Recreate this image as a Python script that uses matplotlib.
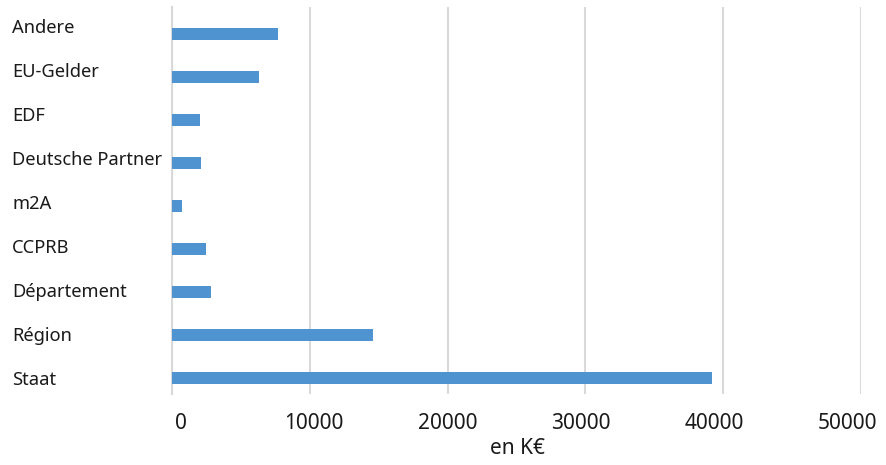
import numpy as np
import matplotlib
matplotlib.use("Agg")
import matplotlib.pyplot as plt

# bottom to top, as the axis reads upward
categories = ["Staat", "Région", "Département", "CCPRB", "m2A",
              "Deutsche Partner", "EDF", "EU-Gelder", "Andere"]
values = [39200, 14600, 2800, 2500, 700, 2100, 2000, 6300, 7700]
xticks = [0, 10000, 20000, 30000, 40000, 50000]

BAR = "#4f94d0"
GRID = "#d9d9d9"
TEXT = "#1a1a1a"
W, H = 886, 465

plt.rcParams["font.family"] = ["Noto Sans", "DejaVu Sans"]

fig = plt.figure(figsize=(W / 100, H / 100), dpi=100)

# plot area (bars + gridlines)
ax = fig.add_axes([172 / W, 1 - 394 / H, (861 - 172) / W, (394 - 7) / H])
y = np.arange(len(categories))
ax.barh(y - 0.13, values, height=0.27, color=BAR, zorder=3)
ax.set_xlim(0, 50000)
ax.set_ylim(-0.5, len(categories) - 0.5)
ax.set_xticks(xticks)
ax.set_yticks(y)
ax.tick_params(length=0, labelbottom=False, labelleft=False)
ax.xaxis.grid(True, color=GRID, linewidth=1.5)
ax.set_axisbelow(True)
for side in ("top", "right", "bottom"):
    ax.spines[side].set_visible(False)
ax.spines["left"].set_color(GRID)
ax.spines["left"].set_linewidth(1.5)

# the source's tick labels sit on a slightly different span than the plot area
lab = fig.add_axes([181 / W, 1 - 399.5 / H, (847.5 - 181) / W, (399.5 - 4.5) / H])
lab.patch.set_visible(False)
for s in lab.spines.values():
    s.set_visible(False)
lab.set_xlim(0, 50000)
lab.set_ylim(-0.5, len(categories) - 0.5)
lab.set_xticks(xticks)
lab.set_xticklabels([str(v) for v in xticks], fontsize=15, color=TEXT)
lab.set_yticks(y)
lab.set_yticklabels(categories, fontsize=13.2, color=TEXT, ha="left")
lab.tick_params(axis="y", length=0, pad=(181 - 12) * 0.72)
lab.tick_params(axis="x", length=0, pad=10)
lab.set_xlabel("en K€", fontsize=15, color=TEXT)
lab.xaxis.set_label_coords(0.505, -0.098)

fig.savefig("out.png", dpi=100, facecolor="white")
